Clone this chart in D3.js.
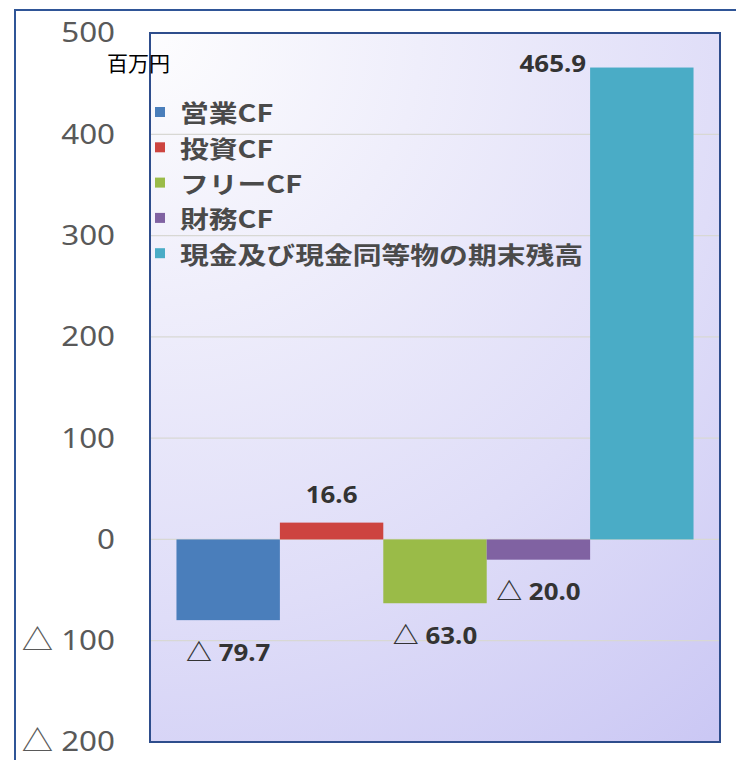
<!DOCTYPE html>
<html>
<head>
<meta charset="utf-8">
<script src="https://cdn.jsdelivr.net/npm/d3@7"></script>
<style>
  body { margin: 0; background: #ffffff; }
  svg { display: block; }
</style>
</head>
<body>
<div id="chart"></div>
<script>
// Data
const categories = ['営業CF', '投資CF', 'フリーCF', '財務CF', '現金及び現金同等物の期末残高'];
const values = [-79.7, 16.6, -63.0, -20.0, 465.9];
const colors = ['#4a7ebb', '#cd4440', '#9abb48', '#8062a2', '#4aacc6'];
const yTicks = [-200, -100, 0, 100, 200, 300, 400, 500];
const unitLabel = '百万円';

const width = 737, height = 760;
const plot = { left: 150, top: 33, right: 720, bottom: 742 };

let svg = d3.select('#chart').append('svg')
    .attr('width', width)
    .attr('height', height);

// Plot background: white in the top-left corner fading to lavender
let defs = svg.append('defs');
let grad = defs.append('radialGradient')
    .attr('id', 'plot-bg')
    .attr('gradientUnits', 'userSpaceOnUse')
    .attr('cx', plot.left).attr('cy', plot.top)
    .attr('fx', plot.left).attr('fy', plot.top)
    .attr('r', 900);
grad.append('stop').attr('offset', '0%').attr('stop-color', '#fdfdfe');
grad.append('stop').attr('offset', '30%').attr('stop-color', '#efeefb');
grad.append('stop').attr('offset', '65%').attr('stop-color', '#dfddf8');
grad.append('stop').attr('offset', '100%').attr('stop-color', '#cbc8f4');

// Outer frame (only top and left edges visible)
svg.append('path')
    .attr('d', `M15,${height + 5} L15,10 L736,10`)
    .attr('fill', 'none')
    .attr('stroke', '#2f5597')
    .attr('stroke-width', 2);

svg.append('rect')
    .attr('x', plot.left)
    .attr('y', plot.top)
    .attr('width', plot.right - plot.left)
    .attr('height', plot.bottom - plot.top)
    .attr('fill', 'url(#plot-bg)');

// Scales
let xScale = d3.scaleBand()
    .domain(categories)
    .range([plot.left, plot.right])
    .paddingInner(0)
    .paddingOuter(0.256);

let yScale = d3.scaleLinear()
    .domain([d3.min(yTicks), d3.max(yTicks)])
    .range([plot.bottom, plot.top]);

const fmt = d => d < 0 ? '△ ' + d3.format('.1f')(-d) : d3.format('.1f')(d);
const tickFmt = d => d < 0 ? '△ ' + (-d) : String(d);

// Gridlines
svg.append('g')
    .selectAll('line')
    .data(yTicks.filter(t => t > -200 && t < 500))
    .enter()
    .append('line')
    .attr('x1', plot.left)
    .attr('x2', plot.right)
    .attr('y1', d => yScale(d))
    .attr('y2', d => yScale(d))
    .attr('stroke', '#d8d8d4')
    .attr('stroke-width', 1.3);

// Y axis
let yAxis = svg.append('g')
    .attr('transform', `translate(${plot.left},0)`)
    .call(d3.axisLeft(yScale).tickValues(yTicks).tickFormat(tickFmt).tickSize(0));
yAxis.select('.domain').remove();
yAxis.selectAll('text')
    .attr('x', 0)
    .attr('transform', 'translate(-35,0) scale(1.12,1)')
    .attr('font-family', '"Noto Sans", "Noto Sans CJK JP", sans-serif')
    .attr('font-size', 28)
    .attr('fill', '#595959');

// Bars (all start from zero)
svg.append('g')
    .selectAll('rect')
    .data(values)
    .enter()
    .append('rect')
    .attr('x', (d, i) => xScale(categories[i]))
    .attr('y', d => yScale(Math.max(0, d)))
    .attr('width', xScale.bandwidth())
    .attr('height', d => Math.abs(yScale(d) - yScale(0)))
    .attr('fill', (d, i) => colors[i]);

// Data labels
svg.append('g')
    .selectAll('text')
    .data(values)
    .enter()
    .append('text')
    .attr('transform', (d, i) => {
        let cx = xScale(categories[i]) + xScale.bandwidth() / 2;
        let y = d < 0 ? yScale(d) + 31 : yScale(d) - 29;
        if (i === values.length - 1) {
            cx = xScale(categories[i]) - 4;
            y = yScale(d) - 5;
        }
        return `translate(${cx},${y}) scale(1.08,1)`;
    })
    .attr('text-anchor', (d, i) => i === values.length - 1 ? 'end' : 'middle')
    .attr('dominant-baseline', 'central')
    .attr('font-family', '"Noto Sans", "Noto Sans CJK JP", sans-serif')
    .attr('font-weight', 'bold')
    .attr('font-size', 24)
    .attr('fill', '#333333')
    .text(d => fmt(d));

// Plot border
svg.append('rect')
    .attr('x', plot.left)
    .attr('y', plot.top)
    .attr('width', plot.right - plot.left)
    .attr('height', plot.bottom - plot.top)
    .attr('fill', 'none')
    .attr('stroke', '#2e4d8c')
    .attr('stroke-width', 2);

// Legend
let legend = svg.append('g')
    .selectAll('g')
    .data(categories)
    .enter()
    .append('g')
    .attr('transform', (d, i) => `translate(155,${112 + i * 35.3})`);
legend.append('rect')
    .attr('x', 0)
    .attr('y', -5)
    .attr('width', 10)
    .attr('height', 10)
    .attr('fill', (d, i) => colors[i]);
legend.append('text')
    .attr('transform', 'translate(25,0) scale(1.2,1)')
    .attr('dominant-baseline', 'central')
    .attr('font-family', '"Noto Sans CJK JP", sans-serif')
    .attr('font-weight', 'bold')
    .attr('font-size', 24)
    .attr('fill', '#4a4a4a')
    .text(d => d);

// Unit label
svg.append('text')
    .attr('x', 107)
    .attr('y', 62)
    .attr('dominant-baseline', 'central')
    .attr('font-family', '"Noto Sans CJK JP", sans-serif')
    .attr('font-size', 21)
    .attr('fill', '#000000')
    .text(unitLabel);
</script>
</body>
</html>
